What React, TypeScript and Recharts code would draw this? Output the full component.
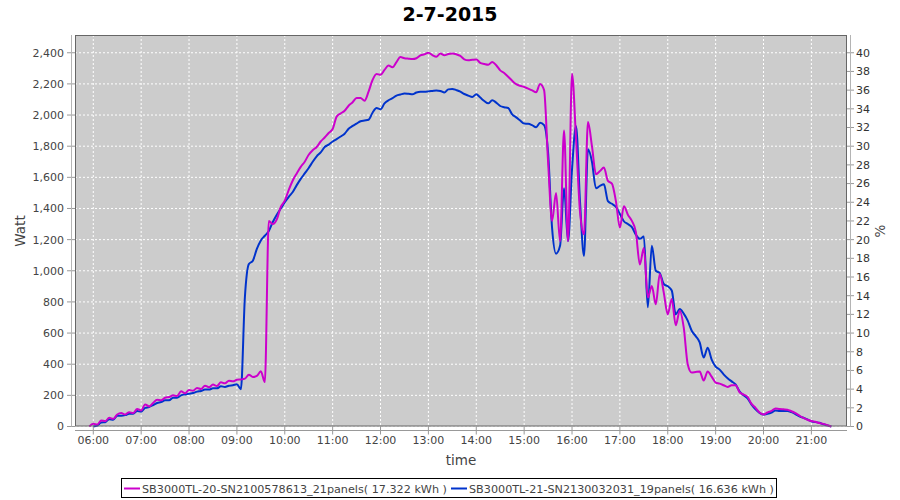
import { CartesianGrid, Line, LineChart, XAxis, YAxis } from 'recharts';

// samples every 5 minutes, 05:55 .. 21:25
const times = [
  '05:55',
  '06:00', '06:05', '06:10', '06:15', '06:20', '06:25', '06:30', '06:35', '06:40', '06:45', '06:50', '06:55',
  '07:00', '07:05', '07:10', '07:15', '07:20', '07:25', '07:30', '07:35', '07:40', '07:45', '07:50', '07:55',
  '08:00', '08:05', '08:10', '08:15', '08:20', '08:25', '08:30', '08:35', '08:40', '08:45', '08:50', '08:55',
  '09:00', '09:05', '09:10', '09:15', '09:20', '09:25', '09:30', '09:35', '09:40', '09:45', '09:50', '09:55',
  '10:00', '10:05', '10:10', '10:15', '10:20', '10:25', '10:30', '10:35', '10:40', '10:45', '10:50', '10:55',
  '11:00', '11:05', '11:10', '11:15', '11:20', '11:25', '11:30', '11:35', '11:40', '11:45', '11:50', '11:55',
  '12:00', '12:05', '12:10', '12:15', '12:20', '12:25', '12:30', '12:35', '12:40', '12:45', '12:50', '12:55',
  '13:00', '13:05', '13:10', '13:15', '13:20', '13:25', '13:30', '13:35', '13:40', '13:45', '13:50', '13:55',
  '14:00', '14:05', '14:10', '14:15', '14:20', '14:25', '14:30', '14:35', '14:40', '14:45', '14:50', '14:55',
  '15:00', '15:05', '15:10', '15:15', '15:20', '15:25', '15:30', '15:35', '15:40', '15:45', '15:50', '15:55',
  '16:00', '16:05', '16:10', '16:15', '16:20', '16:25', '16:30', '16:35', '16:40', '16:45', '16:50', '16:55',
  '17:00', '17:05', '17:10', '17:15', '17:20', '17:25', '17:30', '17:35', '17:40', '17:45', '17:50', '17:55',
  '18:00', '18:05', '18:10', '18:15', '18:20', '18:25', '18:30', '18:35', '18:40', '18:45', '18:50', '18:55',
  '19:00', '19:05', '19:10', '19:15', '19:20', '19:25', '19:30', '19:35', '19:40', '19:45', '19:50', '19:55',
  '20:00', '20:05', '20:10', '20:15', '20:20', '20:25', '20:30', '20:35', '20:40', '20:45', '20:50', '20:55',
  '21:00', '21:05', '21:10', '21:15', '21:20', '21:25',
];

// SB3000TL-20 (21 panels), Watt
const sb20 = [
  0,
  17, 13, 39, 34, 56, 49, 77, 86, 77, 92, 86, 112,
  103, 142, 129, 151, 172, 168, 185, 189, 200, 196, 226, 213,
  234, 230, 247, 241, 262, 252, 269, 260, 284, 277, 294, 290,
  300, 302, 307, 333, 318, 325, 354, 285, 1320, 1300, 1330, 1410,
  1450, 1520, 1580, 1625, 1667, 1700, 1745, 1774, 1795, 1830, 1856, 1885,
  1910, 1990, 2010, 2028, 2060, 2082, 2110, 2110, 2092, 2150, 2225, 2264,
  2258, 2290, 2318, 2307, 2340, 2372, 2365, 2362, 2360, 2365, 2383, 2390,
  2400, 2385, 2375, 2395, 2384, 2392, 2395, 2390, 2380, 2358, 2352, 2355,
  2357, 2335, 2328, 2323, 2341, 2320, 2287, 2270, 2246, 2220, 2198, 2188,
  2180, 2170, 2158, 2146, 2200, 2160, 1700, 1320, 1500, 1190, 1900, 1190,
  2265, 1850, 1380, 1235, 1955, 1800, 1620, 1640, 1663, 1577, 1560, 1447,
  1277, 1415, 1360, 1320, 1250, 1040, 1146, 828, 903, 785, 980, 860,
  720, 819, 650, 744, 636, 400, 346, 350, 353, 295, 353, 320,
  282, 275, 265, 254, 265, 265, 220, 205, 190, 145, 120, 90,
  77, 90, 100, 116, 112, 110, 108, 98, 86, 70, 55, 43,
  35, 30, 22, 17, 8, 0,
];

// SB3000TL-21 (19 panels), Watt
const sb21 = [
  null,
  0, 6, 26, 28, 47, 43, 69, 69, 73, 82, 82, 99,
  95, 120, 125, 138, 151, 157, 168, 168, 185, 185, 200, 206,
  211, 215, 224, 228, 237, 237, 245, 245, 258, 254, 262, 265,
  271, 240, 830, 1043, 1065, 1140, 1195, 1225, 1255, 1313, 1360, 1400,
  1440, 1475, 1506, 1550, 1590, 1625, 1660, 1700, 1735, 1760, 1795, 1810,
  1830, 1845, 1862, 1880, 1912, 1930, 1945, 1960, 1965, 1970, 2015, 2045,
  2037, 2075, 2095, 2108, 2125, 2132, 2138, 2136, 2133, 2145, 2150, 2150,
  2152, 2155, 2158, 2155, 2144, 2165, 2168, 2160, 2150, 2135, 2125, 2116,
  2133, 2112, 2090, 2075, 2095, 2080, 2058, 2050, 2045, 2004, 1985, 1965,
  1945, 1944, 1935, 1922, 1950, 1935, 1760, 1275, 1110, 1160, 1530, 1190,
  1650, 1930, 1447, 1095, 1780, 1700, 1530, 1545, 1555, 1447, 1430, 1410,
  1365, 1318, 1300, 1280, 1232, 1205, 1220, 765, 1160, 1000, 985, 915,
  900, 873, 720, 755, 725, 680, 615, 580, 540, 443, 505, 430,
  385, 365, 335, 310, 290, 270, 225, 200, 180, 140, 110, 88,
  77, 82, 90, 103, 100, 99, 100, 92, 80, 65, 56, 45,
  34, 28, 24, 14, 7, 0,
];

const hourTicks = [6, 7, 8, 9, 10, 11, 12, 13, 14, 15, 16, 17, 18, 19, 20, 21];
const wattTicks = [0, 200, 400, 600, 800, 1000, 1200, 1400, 1600, 1800, 2000, 2200, 2400];
const pctTicks = [0, 2, 4, 6, 8, 10, 12, 14, 16, 18, 20, 22, 24, 26, 28, 30, 32, 34, 36, 38, 40];

const series = [
  { key: 'sb21', color: '#0033cc', name: 'SB3000TL-21-SN2130032031_19panels( 16.636 kWh )' },
  { key: 'sb20', color: '#cc00cc', name: 'SB3000TL-20-SN2100578613_21panels( 17.322 kWh )' },
];

const WATT_MAX = 2514;
const PCT_MAX = WATT_MAX / 60;
const X_DOMAIN: [number, number] = [5.618, 21.744];

// plot frame in page pixels
const PL = 75;
const PR = 847;
const PT = 35;
const PB = 426.5;

const toHours = (s: string) => {
  const [h, m] = s.split(':').map(Number);
  return h + m / 60;
};

const data = times.map((time, i) => ({ t: toHours(time), sb20: sb20[i], sb21: sb21[i] }));

const fmtHour = (h: number) => `${String(h).padStart(2, '0')}:00`;
const fmtWatt = (v: number) => v.toLocaleString('en-US');

export default function App() {
  return (
    <div
      style={{
        position: 'absolute',
        left: 0,
        top: 0,
        width: 900,
        height: 500,
        background: '#fff',
        fontFamily: '"DejaVu Sans", sans-serif',
      }}
    >
      <LineChart width={900} height={500} data={data} margin={{ top: PT, right: 0, bottom: 0, left: 0 }}>
        <CartesianGrid yAxisId="w" fill="#cccccc" stroke="#ffffff" strokeDasharray="2 2" />
        <XAxis
          dataKey="t"
          type="number"
          domain={X_DOMAIN}
          ticks={hourTicks}
          tickFormatter={fmtHour}
          height={500 - PB}
          axisLine={false}
          tickLine={{ stroke: '#999' }}
          tickSize={8}
          tickMargin={2}
          tick={{ fill: '#444', fontSize: 11 }}
          interval={0}
        />
        <YAxis
          yAxisId="w"
          domain={[0, WATT_MAX]}
          ticks={wattTicks}
          tickFormatter={fmtWatt}
          width={PL}
          axisLine={false}
          tickLine={{ stroke: '#999' }}
          tickSize={8}
          tickMargin={3}
          tick={{ fill: '#444', fontSize: 11 }}
          interval={0}
        />
        <YAxis
          yAxisId="pct"
          orientation="right"
          domain={[0, PCT_MAX]}
          allowDataOverflow
          ticks={pctTicks}
          width={900 - PR}
          axisLine={false}
          tickLine={{ stroke: '#999' }}
          tickSize={7}
          tickMargin={2}
          tick={{ fill: '#333', fontSize: 11 }}
          interval={0}
        />
        {/* the % axis has no series of its own; an empty line keeps it drawn */}
        <Line yAxisId="pct" dataKey="pct" stroke="none" dot={false} legendType="none" isAnimationActive={false} />
        {series.map((s) => (
          <Line
            key={s.key}
            yAxisId="w"
            dataKey={s.key}
            type="monotone"
            stroke={s.color}
            strokeWidth={2}
            dot={false}
            isAnimationActive={false}
          />
        ))}
      </LineChart>

      <svg width={900} height={500} style={{ position: 'absolute', left: 0, top: 0, pointerEvents: 'none' }}>
        <rect x={PL + 0.5} y={PT + 0.5} width={PR - PL - 1} height={PB - PT - 1} fill="none" stroke="#666" />
        <line x1={71.5} x2={71.5} y1={PT} y2={PB} stroke="#b4b4b4" />
        <line x1={850.5} x2={850.5} y1={PT} y2={PB} stroke="#b4b4b4" />
        <line x1={PL} x2={PR} y1={430.5} y2={430.5} stroke="#999" />

        <text x={450} y={21} textAnchor="middle" fontSize={19} fontWeight="bold" fill="#000">
          2-7-2015
        </text>
        <text x={461} y={465} textAnchor="middle" fontSize={13.5} fill="#444">
          time
        </text>
        <text transform="translate(25 231) rotate(-90)" textAnchor="middle" fontSize={13.5} fill="#444">
          Watt
        </text>
        <text transform="translate(885 231) rotate(-90)" textAnchor="middle" fontSize={13.5} fill="#444">
          %
        </text>

        <rect x={121.5} y={478.5} width={655} height={19} fill="#fff" stroke="#000" />
        <line x1={124} x2={140} y1={488.5} y2={488.5} stroke={series[1].color} strokeWidth={2} />
        <text x={142} y={492.5} fontSize={11.2} fill="#444">
          {series[1].name}
        </text>
        <line x1={451} x2={467} y1={488.5} y2={488.5} stroke={series[0].color} strokeWidth={2} />
        <text x={469} y={492.5} fontSize={11.2} fill="#444">
          {series[0].name}
        </text>
      </svg>
    </div>
  );
}
